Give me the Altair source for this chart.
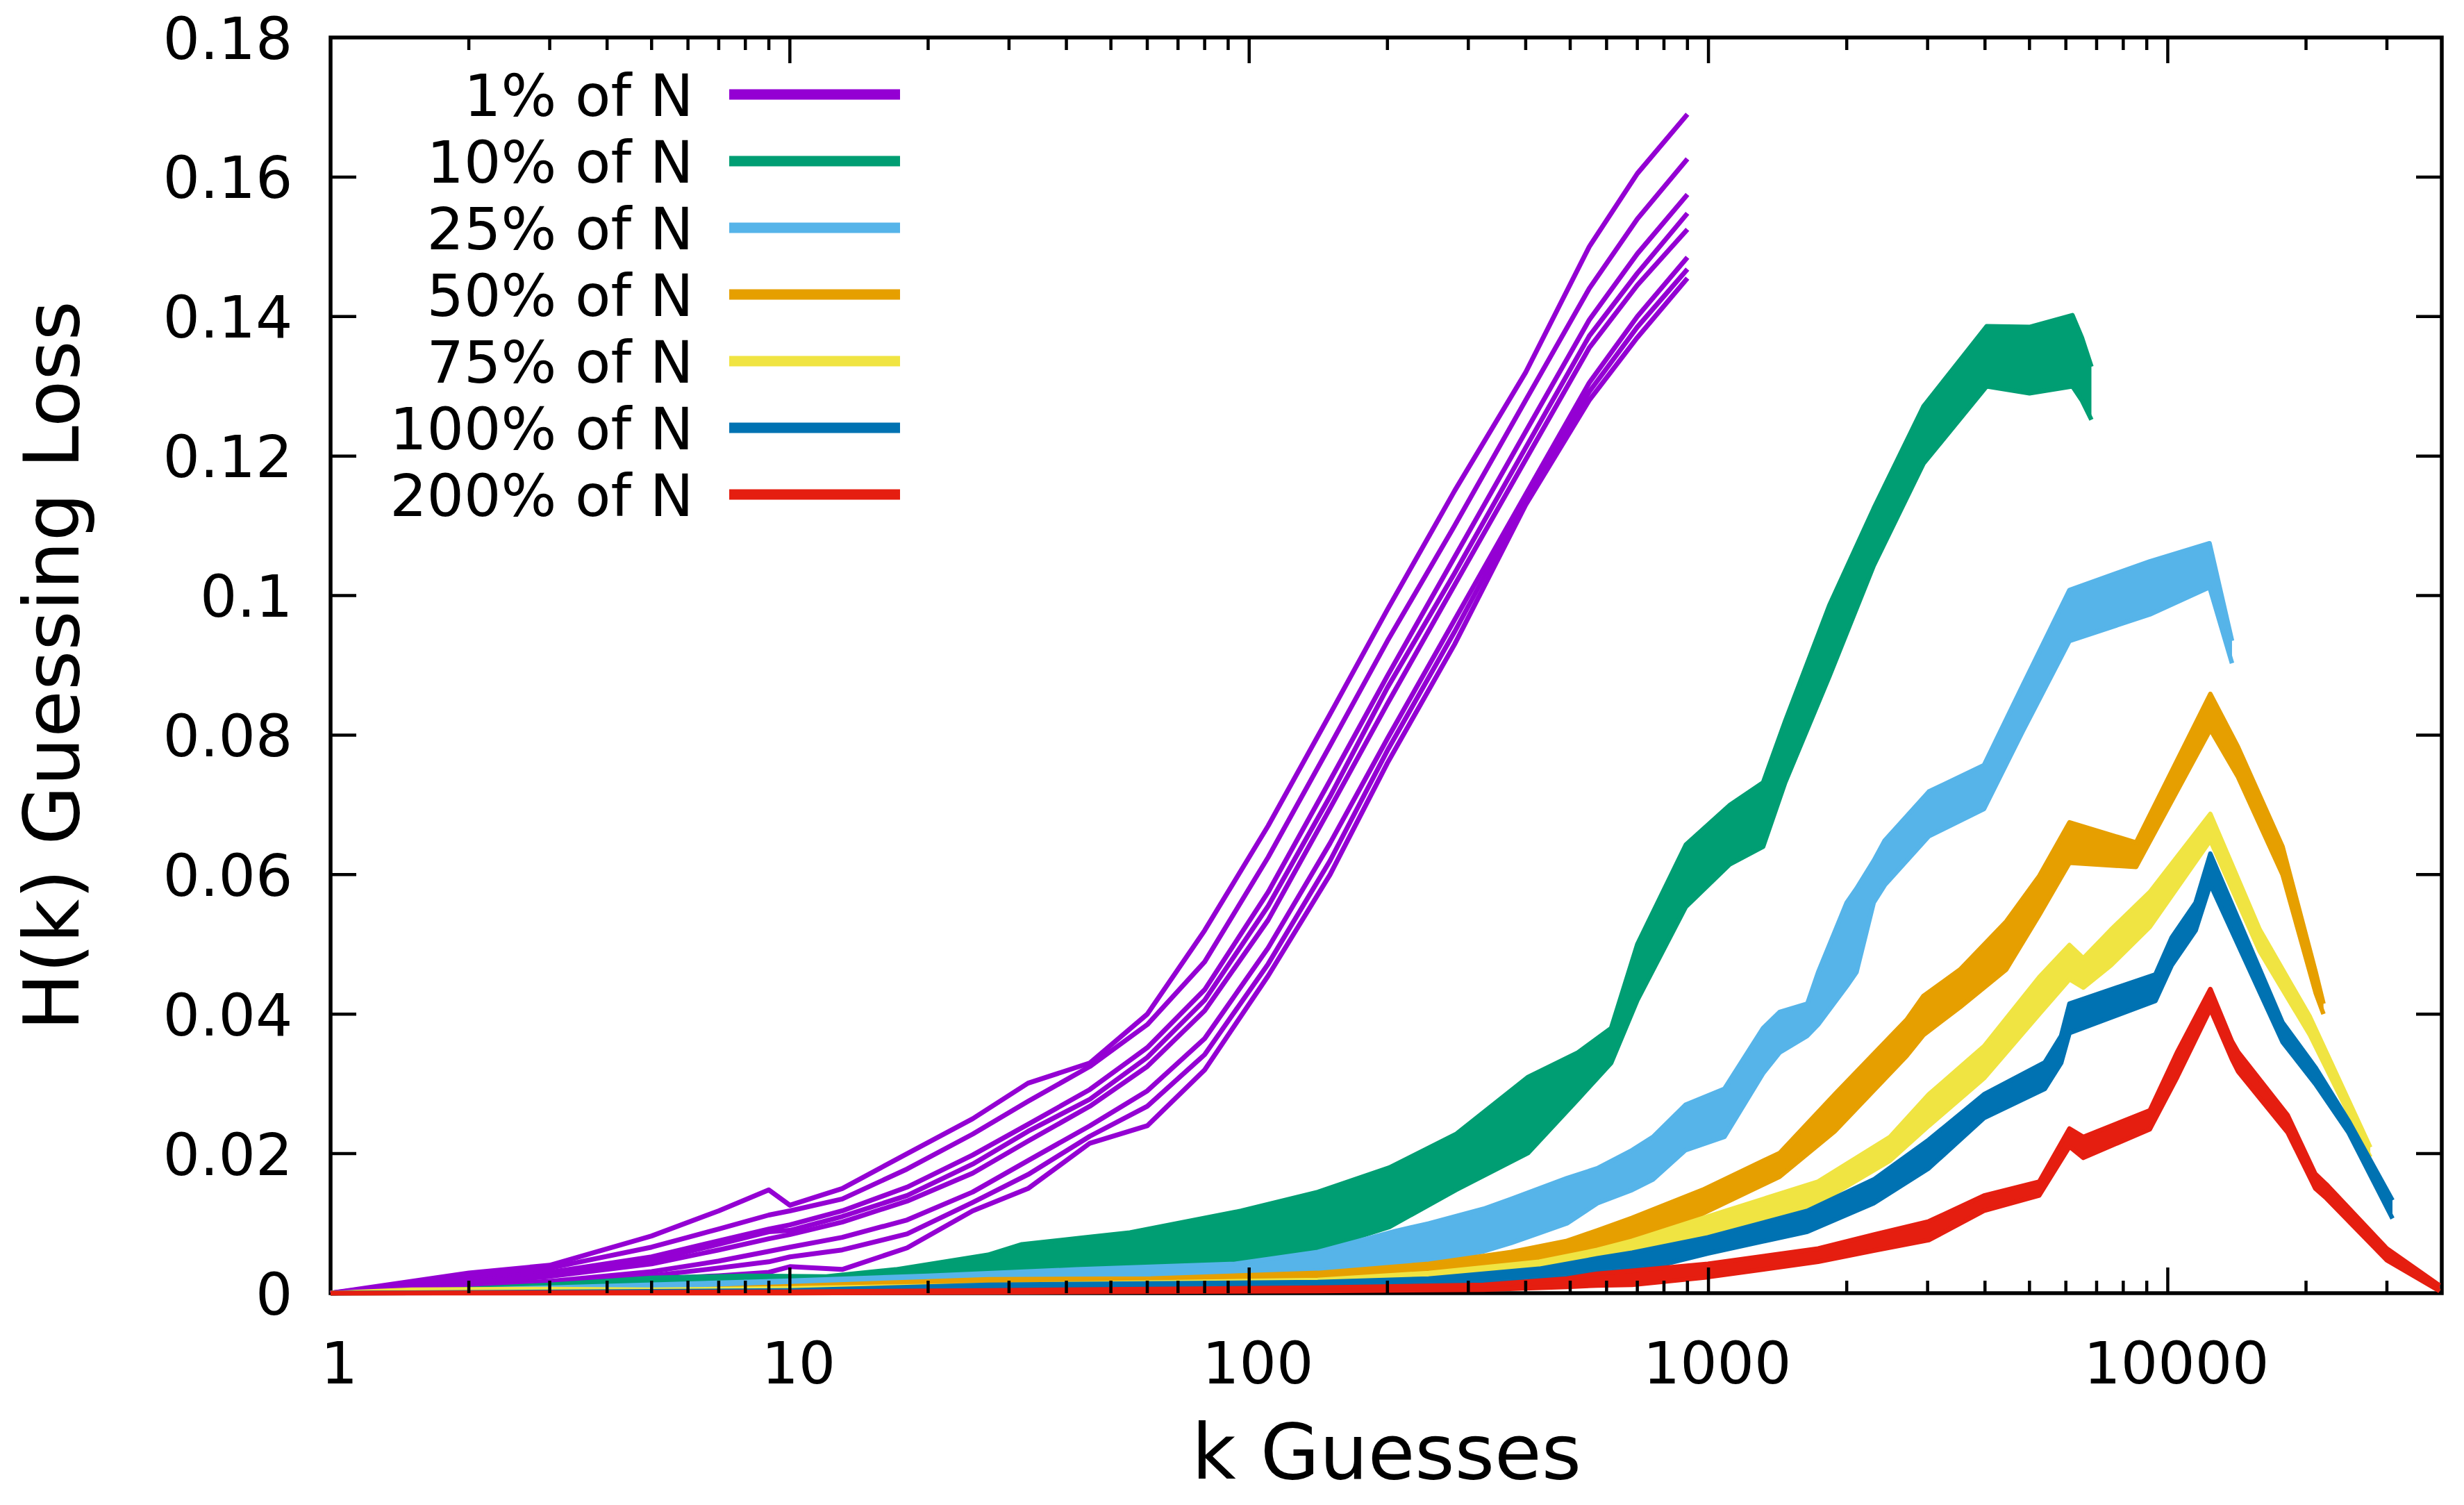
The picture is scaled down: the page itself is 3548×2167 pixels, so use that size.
import altair as alt
import pandas as pd

# ---------------- data ----------------
SERIES = ["1% of N", "10% of N", "25% of N", "50% of N", "75% of N", "100% of N", "200% of N"]
COLORS = ["#9400d3", "#009e73", "#56b4e9", "#e69f00", "#f0e442", "#0072b2", "#e51e10"]

# 1% of N : individual runs
K_P = [1, 2, 3, 5, 7, 9, 10, 13, 18, 25, 33, 45, 60, 80, 110, 150, 200, 280, 400, 550, 700, 900]
P1 = [0, 0.0029, 0.0040, 0.0082, 0.0118, 0.0148, 0.0126, 0.0150, 0.0200, 0.0250, 0.0301, 0.0330, 0.0400, 0.0520, 0.0670, 0.0830, 0.0980, 0.1150, 0.1320, 0.1500, 0.1605, 0.1690]
P2 = [0, 0.0025, 0.0036, 0.0066, 0.0092, 0.0112, 0.0118, 0.0135, 0.0178, 0.0228, 0.0275, 0.0325, 0.0385, 0.0475, 0.0625, 0.0785, 0.0935, 0.1100, 0.1280, 0.1440, 0.1540, 0.1626]
P3 = [0, 0.0020, 0.0030, 0.0052, 0.0075, 0.0092, 0.0098, 0.0118, 0.0152, 0.0198, 0.0242, 0.0292, 0.0352, 0.0435, 0.0575, 0.0735, 0.0885, 0.1055, 0.1235, 0.1395, 0.1490, 0.1575]
P4 = [0, 0.0017, 0.0027, 0.0047, 0.0070, 0.0088, 0.0090, 0.0110, 0.0140, 0.0185, 0.0232, 0.0278, 0.0338, 0.0420, 0.0555, 0.0712, 0.0868, 0.1032, 0.1212, 0.1372, 0.1462, 0.1548]
P5 = [0, 0.0015, 0.0024, 0.0042, 0.0062, 0.0078, 0.0084, 0.0102, 0.0132, 0.0172, 0.0218, 0.0268, 0.0325, 0.0405, 0.0535, 0.0695, 0.0845, 0.1015, 0.1195, 0.1355, 0.1445, 0.1525]
P6 = [0, 0.0011, 0.0017, 0.0031, 0.0046, 0.0060, 0.0066, 0.0080, 0.0105, 0.0145, 0.0190, 0.0240, 0.0290, 0.0365, 0.0495, 0.0645, 0.0795, 0.0965, 0.1145, 0.1305, 0.1400, 0.1485]
P7 = [0, 0.0009, 0.0014, 0.0025, 0.0036, 0.0045, 0.0052, 0.0062, 0.0085, 0.0130, 0.0170, 0.0225, 0.0268, 0.0342, 0.0472, 0.0620, 0.0778, 0.0948, 0.1138, 0.1292, 0.1385, 0.1468]
P8 = [0, 0.0008, 0.0012, 0.0020, 0.0025, 0.0030, 0.0038, 0.0034, 0.0065, 0.0118, 0.0150, 0.0215, 0.0240, 0.0320, 0.0455, 0.0600, 0.0760, 0.0930, 0.1130, 0.1280, 0.1370, 0.1455]
P_RUNS = [P1, P2, P3, P4, P5, P6, P7, P8]

# 10% of N : band (upper / lower edge of the runs)
K_G = [1, 2, 3, 5, 8, 12, 17, 27, 32, 55, 96, 141, 202, 282, 405, 520, 614, 700, 893, 1114, 1315, 1469, 1833, 2290, 2937, 4034, 5000, 6200, 6500, 6820]
G_HI = [0, 0.0006, 0.0012, 0.0022, 0.0025, 0.0024, 0.0034, 0.0055, 0.0070, 0.0087, 0.0118, 0.0145, 0.0180, 0.0228, 0.0310, 0.0345, 0.0380, 0.0500, 0.0643, 0.0700, 0.0732, 0.0820, 0.0986, 0.1125, 0.1271, 0.1386, 0.1385, 0.1402, 0.1370, 0.1328]
G_LO = [0, 0.0003, 0.0006, 0.0011, 0.0012, 0.0013, 0.0019, 0.0029, 0.0030, 0.0032, 0.0042, 0.0062, 0.0095, 0.0148, 0.0201, 0.0278, 0.0330, 0.0420, 0.0554, 0.0615, 0.0640, 0.0732, 0.0884, 0.1043, 0.1189, 0.1300, 0.1290, 0.1300, 0.1280, 0.1252]

# 25% of N
K_L = [1, 3, 10, 20, 42, 93, 141, 208, 246, 324, 372, 492, 573, 682, 757, 891, 1083, 1315, 1429, 1642, 1733, 2000, 2100, 2290, 2420, 3018, 3980, 4830, 6110, 9140, 12330, 13800]
L_HI = [0, 0.0008, 0.0018, 0.0025, 0.0034, 0.0042, 0.0059, 0.0089, 0.0100, 0.0121, 0.0135, 0.0165, 0.0179, 0.0205, 0.0224, 0.0270, 0.0293, 0.0380, 0.0403, 0.0415, 0.0460, 0.0560, 0.0580, 0.0620, 0.0649, 0.0719, 0.0757, 0.0871, 0.1008, 0.1049, 0.1075, 0.0935]
L_LO = [0, 0.0003, 0.0008, 0.0012, 0.0018, 0.0025, 0.0032, 0.0040, 0.0045, 0.0060, 0.0072, 0.0100, 0.0129, 0.0148, 0.0163, 0.0205, 0.0224, 0.0315, 0.0345, 0.0369, 0.0385, 0.0440, 0.0460, 0.0560, 0.0585, 0.0655, 0.0694, 0.0805, 0.0935, 0.0973, 0.1012, 0.0903]

# 50% of N
K_O = [1, 5, 10, 27, 61, 141, 246, 372, 492, 573, 682, 970, 1429, 1883, 2700, 2937, 3530, 4450, 5250, 6110, 8530, 12380, 14220, 17780, 21000, 21830]
O_HI = [0, 0.0003, 0.0010, 0.0020, 0.0021, 0.0029, 0.0042, 0.0059, 0.0075, 0.0090, 0.0108, 0.0148, 0.0201, 0.0285, 0.0392, 0.0426, 0.0464, 0.0533, 0.0598, 0.0675, 0.0646, 0.0859, 0.0783, 0.0640, 0.0460, 0.0415]
O_LO = [0, 0.0001, 0.0004, 0.0010, 0.0012, 0.0016, 0.0021, 0.0032, 0.0045, 0.0058, 0.0066, 0.0114, 0.0167, 0.0232, 0.0340, 0.0370, 0.0410, 0.0464, 0.0542, 0.0617, 0.0611, 0.0808, 0.0740, 0.0600, 0.0430, 0.0400]

# 75% of N
K_Y = [1, 1.5, 3, 5, 10, 30, 141, 246, 428, 573, 682, 997, 1733, 2485, 3018, 3980, 5250, 6110, 6550, 7520, 9140, 12380, 15860, 20400, 27600]
Y_HI = [0, 0.0005, 0.0006, 0.0005, 0.0007, 0.0012, 0.0019, 0.0029, 0.0045, 0.0062, 0.0075, 0.0110, 0.0160, 0.0224, 0.0285, 0.0354, 0.0453, 0.0499, 0.0480, 0.0521, 0.0575, 0.0687, 0.0521, 0.0396, 0.0209]
Y_LO = [0, 0.0001, 0.0002, 0.0002, 0.0003, 0.0005, 0.0012, 0.0016, 0.0025, 0.0040, 0.0046, 0.0080, 0.0129, 0.0190, 0.0240, 0.0308, 0.0400, 0.0450, 0.0438, 0.0470, 0.0525, 0.0649, 0.0490, 0.0370, 0.0195]

# 100% of N
K_B = [1, 10, 27, 141, 246, 428, 573, 682, 997, 1642, 2290, 3018, 3980, 5400, 5860, 6110, 9400, 10200, 11500, 12380, 17780, 20950, 24760, 30850]
B_HI = [0, 0.0004, 0.0012, 0.0016, 0.0021, 0.0035, 0.0050, 0.0058, 0.0080, 0.0118, 0.0163, 0.0220, 0.0285, 0.0331, 0.0369, 0.0415, 0.0457, 0.0510, 0.0560, 0.0630, 0.0388, 0.0324, 0.0247, 0.0133]
B_LO = [0, 0.0001, 0.0005, 0.0008, 0.0012, 0.0017, 0.0028, 0.0030, 0.0057, 0.0088, 0.0129, 0.0179, 0.0251, 0.0293, 0.0330, 0.0373, 0.0419, 0.0470, 0.0520, 0.0586, 0.0360, 0.0300, 0.0230, 0.0107]

# 200% of N
K_R = [1, 10, 27, 141, 324, 492, 573, 682, 997, 1733, 2290, 3018, 3980, 5250, 6110, 6550, 9140, 10490, 12380, 13800, 14220, 18250, 20950, 22150, 30000, 39080]
R_HI = [0, 0.0002, 0.0004, 0.0008, 0.0012, 0.0021, 0.0028, 0.0032, 0.0042, 0.0064, 0.0084, 0.0103, 0.0140, 0.0160, 0.0236, 0.0224, 0.0262, 0.0346, 0.0436, 0.0361, 0.0346, 0.0255, 0.0171, 0.0156, 0.0064, 0.0011]
R_LO = [0, 0.0000, 0.0001, 0.0003, 0.0005, 0.0009, 0.0011, 0.0012, 0.0023, 0.0045, 0.0061, 0.0076, 0.0118, 0.0140, 0.0210, 0.0194, 0.0235, 0.0310, 0.0407, 0.0335, 0.0318, 0.0230, 0.0150, 0.0136, 0.0047, 0.0003]

BANDS = [
    (K_G, G_HI, G_LO),
    (K_L, L_HI, L_LO),
    (K_O, O_HI, O_LO),
    (K_Y, Y_HI, Y_LO),
    (K_B, B_HI, B_LO),
    (K_R, R_HI, R_LO),
]

X_MAJOR = [10, 100, 1000, 10000]
X_MINOR = [2, 3, 4, 5, 6, 7, 8, 9, 20, 30, 40, 50, 60, 70, 80, 90,
           200, 300, 400, 500, 600, 700, 800, 900,
           2000, 3000, 4000, 5000, 6000, 7000, 8000, 9000, 20000, 30000]
X_LABELS = [1, 10, 100, 1000, 10000]
Y_TICKS = [0.02, 0.04, 0.06, 0.08, 0.1, 0.12, 0.14, 0.16]
Y_LABELS = [0, 0.02, 0.04, 0.06, 0.08, 0.1, 0.12, 0.14, 0.16, 0.18]

# ---------------- chart ----------------
W, H = 3040, 1808
FONT = "DejaVu Sans"
MAJ, MIN = 37, 18

xscale = alt.Scale(type="log", domain=[1, 39500], nice=False)
yscale = alt.Scale(domain=[0, 0.18], nice=False, zero=False)
cscale = alt.Scale(domain=SERIES, range=COLORS)

xaxis = alt.Axis(values=X_LABELS, format="d", domain=False, ticks=False, tickSize=0, grid=False,
                 labelFont=FONT, labelFontSize=84, labelColor="black", labelPadding=63,
                 labelOffset=12, labelFlush=False, labelOverlap=False, labelLimit=1000,
                 title="k Guesses", titleFont=FONT, titleFontSize=110, titleFontWeight="normal",
                 titleColor="black", titleX=W / 2, titleY=266, titleBaseline="alphabetic",
                 titleAlign="center", titleLimit=3000)
yaxis = alt.Axis(values=Y_LABELS, format="~g", domain=False, ticks=False, tickSize=0, grid=False,
                 labelFont=FONT, labelFontSize=84, labelColor="black", labelPadding=55,
                 labelOffset=5, labelFlush=False, labelOverlap=False, labelLimit=1000,
                 title="H(k) Guessing Loss", titleFont=FONT, titleFontSize=110,
                 titleFontWeight="normal", titleColor="black", titleX=-364, titleY=H / 2,
                 titleAngle=270, titleBaseline="alphabetic", titleAlign="center",
                 titleLimit=3000)

legend = alt.Legend(title=None, orient="none", legendX=205, legendY=40, padding=0,
                    symbolType="M2.085,-0.272H7.263V0.044H2.085Z", symbolSize=9025,
                    symbolStrokeWidth=0, symbolOpacity=1, symbolOffset=222.5,
                    labelFont=FONT, labelFontSize=84, labelColor="black", labelAlign="right",
                    labelOffset=0, labelLimit=3000, rowPadding=6,
                    labelExpr="pad(datum.label, 9, '\u2007', 'left')")

X = lambda: alt.X("k:Q", scale=xscale, axis=xaxis)

layers = []

# purple runs
rows = []
for j, run in enumerate(P_RUNS):
    for k, v in zip(K_P, run):
        rows.append({"series": SERIES[0], "strand": j, "k": k, "v": v})
purple = pd.DataFrame(rows)
layers.append(
    alt.Chart(purple).mark_line(color=COLORS[0], strokeWidth=7, strokeJoin="round").encode(
        x=X(),
        y=alt.Y("v:Q", scale=yscale, axis=yaxis),
        detail="strand:N",
    )
)

for i, (ks, hi, lo) in enumerate(BANDS, start=1):
    band = pd.DataFrame({"series": SERIES[i], "k": ks, "hi": hi, "lo": lo})
    layers.append(
        alt.Chart(band).mark_area(orient="vertical").encode(
            x=X(),
            y=alt.Y("hi:Q", scale=yscale, axis=yaxis),
            y2="lo:Q",
            color=alt.Color("series:N", scale=cscale, legend=legend),
        )
    )
    edges = pd.concat([
        pd.DataFrame({"edge": "hi", "k": ks, "v": hi}),
        pd.DataFrame({"edge": "lo", "k": ks, "v": lo}),
    ])
    layers.append(
        alt.Chart(edges).mark_line(color=COLORS[i], strokeWidth=6.5, strokeJoin="round").encode(
            x=X(),
            y=alt.Y("v:Q", scale=yscale, axis=yaxis),
            detail="edge:N",
        )
    )

# inward ticks (gnuplot style, all four sides)
xmaj = pd.DataFrame({"k": X_MAJOR})
xmin = pd.DataFrame({"k": X_MINOR})
yt = pd.DataFrame({"v": Y_TICKS})
tick_style = dict(color="black", strokeWidth=4.5)
for df, ln in ((xmaj, MAJ), (xmin, MIN)):
    layers.append(alt.Chart(df).mark_rule(**tick_style).encode(
        x=X(), y=alt.value(H), y2=alt.value(H - ln)))
    layers.append(alt.Chart(df).mark_rule(**tick_style).encode(
        x=X(), y=alt.value(0), y2=alt.value(ln)))
layers.append(alt.Chart(yt).mark_rule(**tick_style).encode(
    y=alt.Y("v:Q", scale=yscale, axis=yaxis), x=alt.value(0), x2=alt.value(MAJ)))
layers.append(alt.Chart(yt).mark_rule(**tick_style).encode(
    y=alt.Y("v:Q", scale=yscale, axis=yaxis), x=alt.value(W), x2=alt.value(W - MAJ)))

chart = (
    alt.layer(*layers)
    .properties(width=W, height=H,
                padding={"left": 468, "top": 46, "right": 24, "bottom": 297},
                autosize=alt.AutoSizeParams(type="none"), background="white")
    .configure(font=FONT)
    .configure_view(stroke="black", strokeWidth=5.5)
)

chart.save("out.html", embed_options={"renderer": "svg", "actions": False})
